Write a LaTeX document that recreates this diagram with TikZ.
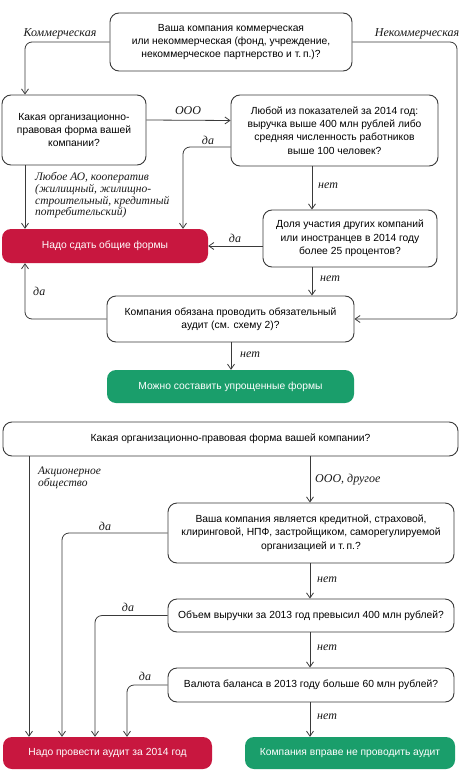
\documentclass[tikz,border=0pt]{standalone}
\usepackage{fontspec}
\setmainfont{Liberation Sans}
\newfontfamily\lblfont{Liberation Serif}
\usetikzlibrary{arrows.meta}
\definecolor{lineC}{HTML}{3A3A3A}
\definecolor{redC}{HTML}{C8173F}
\definecolor{greenC}{HTML}{1A9E6B}
\tikzset{
  qbox/.style={draw=lineC, line width=0.9pt, rounded corners=9pt, fill=white, align=center,
    font=\fontsize{10.3}{13.3}\selectfont, inner sep=2pt},
  redbox/.style={fill=redC, rounded corners=9pt, text=white, align=center,
    font=\fontsize{10.3}{13}\selectfont, inner sep=2pt},
  greenbox/.style={fill=greenC, rounded corners=9pt, text=white, align=center,
    font=\fontsize{10.3}{13}\selectfont, inner sep=2pt},
  conn/.style={draw=lineC, line width=0.8pt, rounded corners=7pt},
  arr/.style={conn, -{Straight Barb[length=5pt,width=7pt]}},
  lbl/.style={font=\lblfont\itshape\fontsize{12}{12}\selectfont, text=black!90, inner sep=0pt},
}
\begin{document}
\begin{tikzpicture}[x=1pt,y=-1pt]
\useasboundingbox[fill=white] (0,0) rectangle (460,773);
% ---- upper scheme ----
\node[qbox, minimum width=242pt, minimum height=58pt] (q1) at (231,42)
  {Ваша компания коммерческая\\или некоммерческая (фонд, учреждение,\\некоммерческое партнерство и т.\,п.)?};
\node[qbox, minimum width=144pt, minimum height=70pt] (q2) at (74,130)
  {Какая организационно-\\правовая форма вашей\\компании?};
\node[qbox, minimum width=207pt, minimum height=71pt] (q3) at (334.5,130.5)
  {Любой из показателей за 2014 год:\\выручка выше 400 млн рублей либо\\средняя численность работников\\выше 100 человек?};
\node[redbox, minimum width=206pt, minimum height=34pt] (r1) at (105,246)
  {Надо сдать общие формы};
\node[qbox, minimum width=174pt, minimum height=57pt] (q4) at (350,238.5)
  {Доля участия других компаний\\или иностранцев в 2014 году\\более 25 процентов?};
\node[qbox, minimum width=247pt, minimum height=46pt] (q5) at (230.5,319)
  {Компания обязана проводить обязательный\\аудит (см. схему 2)?};
\node[greenbox, minimum width=247pt, minimum height=33pt] (g1) at (230.5,386.5)
  {Можно составить упрощенные формы};

\coordinate (xL) at (25,0);
\coordinate (xR) at (457,0);
\coordinate (xD) at (183,0);
\coordinate (xM) at (312,0);
\coordinate (xG) at (231,0);

\draw[arr] (q1.west) -| (q2.north -| xL);
\draw[arr] (q1.east) -| (xR |- q5.east) -- (q5.east);
\draw[arr] ([yshift=10pt]q2.east) -- ([yshift=10pt]q3.west);
\draw[arr] ([yshift=-16.5pt]q3.west) -| (r1.north -| xD);
\draw[arr] (q2.south -| xL) -- (r1.north -| xL);
\draw[arr] (q3.south -| xM) -- (q4.north -| xM);
\draw[arr] (q4.west |- r1.east) -- (r1.east);
\draw[arr] (q4.south -| xM) -- (q5.north -| xM);
\draw[arr] (q5.west) -| (r1.south -| xL);
\draw[arr] (q5.south -| xG) -- (g1.north -| xG);

\node[lbl] (l1) at (60,34) {Коммерческая};
\node[lbl] (l2) at (417,34) {Некоммерческая};
\node[lbl] (l3) at (188,111) {ООО};
\node[lbl] (l4) at (208,140) {да};
\node[lbl, anchor=west] (l5) at (318,186) {нет};
\node[lbl, anchor=north west, align=left, font=\lblfont\itshape\fontsize{11.5}{11.8}\selectfont] (l6) at (35,172)
  {Любое АО, кооператив\\(жилищный, жилищно-\\строительный, кредитный\\потребительский)};
\node[lbl] (l7) at (235,238) {да};
\node[lbl, anchor=west] (l8) at (320,279) {нет};
\node[lbl, anchor=west] (l9) at (33,291) {да};
\node[lbl, anchor=west] (l10) at (240,355) {нет};

% ---- lower scheme ----
\node[qbox, minimum width=455pt, minimum height=34pt] (Q6) at (230.5,439)
  {Какая организационно-правовая форма вашей компании?};
\node[qbox, minimum width=286pt, minimum height=60pt] (q7) at (311,533)
  {Ваша компания является кредитной, страховой,\\клиринговой, НПФ, застройщиком, саморегулируемой\\организацией и т.\,п.?};
\node[qbox, minimum width=286pt, minimum height=33pt] (q8) at (311,615.5)
  {Объем выручки за 2013 год превысил 400 млн рублей?};
\node[qbox, minimum width=286pt, minimum height=34pt] (q9) at (311,685)
  {Валюта баланса в 2013 году больше 60 млн рублей?};
\node[redbox, minimum width=209pt, minimum height=32pt] (r2) at (107.5,753)
  {Надо провести аудит за 2014 год};
\node[greenbox, minimum width=210pt, minimum height=32pt] (g2) at (350,753)
  {Компания вправе не проводить аудит};

\coordinate (xa) at (29,0);
\coordinate (xb) at (62,0);
\coordinate (xc) at (95,0);
\coordinate (xd) at (127,0);
\coordinate (xm) at (310,0);

\draw[arr] (Q6.south -| xa) -- (r2.north -| xa);
\draw[arr] (Q6.south -| xm) -- (q7.north -| xm);
\draw[arr] (q7.west) -| (r2.north -| xb);
\draw[arr] (q7.south -| xm) -- (q8.north -| xm);
\draw[arr] (q8.west) -| (r2.north -| xc);
\draw[arr] (q8.south -| xm) -- (q9.north -| xm);
\draw[arr] (q9.west) -| (r2.north -| xd);
\draw[arr] (q9.south -| xm) -- (g2.north -| xm);

\node[lbl, anchor=north west, align=left, font=\lblfont\itshape\fontsize{11.5}{12}\selectfont] (m1) at (38,467)
  {Акционерное\\общество};
\node[lbl, anchor=west] (m2) at (315,480) {ООО, другое};
\node[lbl] (m3) at (105,526) {да};
\node[lbl, anchor=west] (m4) at (317,580) {нет};
\node[lbl] (m5) at (128,607) {да};
\node[lbl, anchor=west] (m6) at (317,648) {нет};
\node[lbl] (m7) at (145,676) {да};
\node[lbl, anchor=west] (m8) at (317,717) {нет};
\end{tikzpicture}
\end{document}
